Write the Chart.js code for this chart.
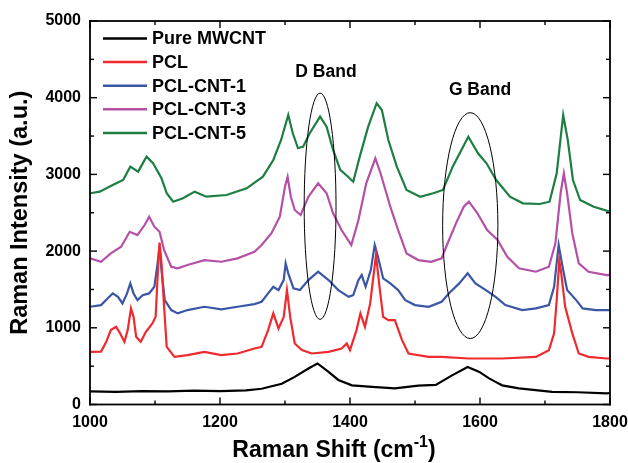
<!DOCTYPE html>
<html>
<head>
<meta charset="utf-8">
<script src="https://cdn.jsdelivr.net/npm/chart.js@4.4.1/dist/chart.umd.min.js"></script>
<style>
  html, body { margin: 0; padding: 0; background: #fff; }
  canvas { display: block; }
</style>
</head>
<body>
<canvas id="ramanChart" width="628" height="463"></canvas>
<script>
// Raman spectra, values (shift in cm-1, intensity in a.u.)
const seriesNames = ['Pure MWCNT', 'PCL', 'PCL-CNT-1', 'PCL-CNT-3', 'PCL-CNT-5'];
const seriesColors = ['#000000', '#ee2a2e', '#3a56a5', '#b450a6', '#1c7e42'];

const mwcntShift = [1000, 1040, 1080, 1120, 1160, 1200, 1240, 1264, 1295, 1315, 1336, 1350, 1367, 1382, 1403, 1434, 1469, 1505, 1532, 1557, 1581, 1599, 1614, 1624, 1634, 1660, 1711, 1750, 1795, 1800];
const mwcntIntensity = [170, 165, 175, 170, 180, 175, 185, 205, 270, 360, 470, 535, 425, 320, 250, 230, 210, 245, 255, 380, 490, 425, 340, 295, 250, 210, 165, 160, 145, 150];

const pclShift = [1000, 1017, 1025, 1032, 1040, 1045, 1053, 1058, 1063, 1067, 1071, 1078, 1086, 1096, 1101, 1104, 1107, 1110, 1114, 1118, 1130, 1150, 1176, 1202, 1227, 1253, 1264, 1274, 1282, 1290, 1298, 1303, 1308, 1315, 1326, 1341, 1367, 1387, 1395, 1400, 1410, 1416, 1423, 1431, 1440, 1446, 1451, 1459, 1469, 1480, 1490, 1521, 1541, 1583, 1634, 1686, 1706, 1714, 1718, 1722, 1725, 1731, 1742, 1752, 1767, 1795, 1800];
const pclIntensity = [686, 690, 817, 970, 1013, 948, 817, 970, 1253, 1143, 882, 817, 948, 1057, 1143, 1665, 2110, 1840, 1274, 752, 621, 643, 686, 643, 665, 730, 752, 970, 1188, 992, 1143, 1492, 1143, 796, 709, 665, 686, 730, 796, 709, 970, 1188, 1013, 1318, 1948, 1492, 1143, 1100, 1100, 839, 665, 621, 621, 600, 600, 621, 709, 927, 1361, 1880, 1710, 1274, 927, 665, 621, 600, 600];

const cnt1Shift = [1000, 1017, 1027, 1035, 1043, 1050, 1057, 1062, 1067, 1073, 1081, 1091, 1099, 1104, 1107, 1110, 1115, 1125, 1135, 1150, 1176, 1202, 1227, 1253, 1264, 1274, 1282, 1290, 1298, 1301, 1305, 1313, 1323, 1336, 1351, 1367, 1382, 1398, 1405, 1413, 1418, 1424, 1432, 1438, 1443, 1451, 1462, 1474, 1485, 1500, 1521, 1541, 1552, 1568, 1581, 1593, 1609, 1624, 1639, 1665, 1686, 1706, 1714, 1721, 1727, 1734, 1748, 1758, 1778, 1800];
const cnt1Intensity = [1274, 1296, 1383, 1448, 1404, 1318, 1448, 1579, 1448, 1361, 1426, 1448, 1535, 1840, 2070, 1753, 1361, 1231, 1188, 1231, 1274, 1240, 1274, 1309, 1339, 1448, 1535, 1492, 1622, 1840, 1710, 1514, 1492, 1622, 1731, 1622, 1492, 1404, 1426, 1622, 1688, 1535, 1753, 2080, 1927, 1644, 1579, 1492, 1361, 1296, 1274, 1339, 1448, 1579, 1710, 1579, 1492, 1404, 1296, 1231, 1253, 1296, 1535, 2080, 1796, 1492, 1361, 1253, 1231, 1231];

const cnt3Shift = [1000, 1017, 1032, 1048, 1061, 1073, 1084, 1091, 1099, 1107, 1114, 1125, 1135, 1150, 1176, 1202, 1227, 1253, 1264, 1279, 1292, 1300, 1304, 1309, 1315, 1324, 1336, 1351, 1364, 1374, 1387, 1402, 1413, 1425, 1439, 1447, 1462, 1474, 1487, 1505, 1525, 1541, 1548, 1563, 1575, 1583, 1596, 1611, 1627, 1642, 1660, 1686, 1706, 1716, 1724, 1729, 1734, 1742, 1752, 1767, 1795, 1800];
const cnt3Intensity = [1905, 1861, 1970, 2057, 2252, 2209, 2340, 2448, 2318, 2252, 2013, 1796, 1775, 1818, 1883, 1861, 1905, 1991, 2079, 2231, 2448, 2840, 2970, 2709, 2536, 2470, 2709, 2884, 2754, 2493, 2275, 2079, 2405, 2884, 3210, 3015, 2579, 2275, 1970, 1883, 1861, 1905, 2057, 2362, 2579, 2644, 2493, 2275, 2144, 1927, 1775, 1731, 1796, 2101, 2754, 3015, 2754, 2231, 1840, 1731, 1688, 1690];

const cnt5Shift = [1000, 1015, 1035, 1051, 1062, 1074, 1087, 1097, 1110, 1118, 1128, 1143, 1161, 1179, 1210, 1241, 1266, 1282, 1294, 1305, 1312, 1320, 1328, 1338, 1354, 1364, 1374, 1385, 1397, 1405, 1415, 1428, 1441, 1449, 1459, 1472, 1487, 1508, 1528, 1543, 1558, 1574, 1582, 1597, 1610, 1625, 1646, 1666, 1692, 1707, 1718, 1728, 1735, 1743, 1754, 1775, 1800];
const cnt5Intensity = [2754, 2775, 2862, 2927, 3101, 3036, 3231, 3145, 2949, 2754, 2644, 2688, 2775, 2709, 2731, 2819, 2970, 3188, 3449, 3775, 3536, 3341, 3362, 3536, 3753, 3623, 3319, 3058, 2970, 2905, 3232, 3623, 3928, 3840, 3449, 3101, 2797, 2709, 2754, 2797, 3101, 3362, 3492, 3275, 3145, 2927, 2709, 2623, 2614, 2644, 3015, 3775, 3449, 2927, 2666, 2579, 2514];

const shiftLists = [mwcntShift, pclShift, cnt1Shift, cnt3Shift, cnt5Shift];
const intensityLists = [mwcntIntensity, pclIntensity, cnt1Intensity, cnt3Intensity, cnt5Intensity];

// band markers (ellipses) in data units
const bandLabels = ['D Band', 'G Band'];
const bandCenter = [1354, 1585];
const bandHalfWidth = [24.5, 42.5];
const bandLow = [1110, 860];
const bandHigh = [4060, 3805];
const bandLabelShift = [1363, 1600];
const bandLabelIntensity = [4275, 4035];

const FONT = '"Liberation Sans", Arial, Helvetica, sans-serif';

// ellipses, frame, inward ticks, legend and axis titles
const decorPlugin = {
    id: 'decor',
    afterDraw(chart) {
        const c = chart.ctx;
        const xs = chart.scales.x, ys = chart.scales.y;
        const left = xs.getPixelForValue(xs.min);
        const right = xs.getPixelForValue(xs.max);
        const top = ys.getPixelForValue(ys.max);
        const bottom = ys.getPixelForValue(ys.min);
        c.save();

        // ellipses around the bands
        c.strokeStyle = '#000';
        c.lineWidth = 1;
        bandLabels.forEach((name, i) => {
            const cx = xs.getPixelForValue(bandCenter[i]);
            const rx = xs.getPixelForValue(bandCenter[i] + bandHalfWidth[i]) - cx;
            const eTop = ys.getPixelForValue(bandHigh[i]);
            const eBottom = ys.getPixelForValue(bandLow[i]);
            c.beginPath();
            c.ellipse(cx, (eTop + eBottom) / 2, rx, (eBottom - eTop) / 2, 0, 0, Math.PI * 2);
            c.stroke();

            c.fillStyle = '#000';
            c.font = 'bold 17.5px ' + FONT;
            c.textAlign = 'center';
            c.textBaseline = 'alphabetic';
            c.fillText(name, xs.getPixelForValue(bandLabelShift[i]), ys.getPixelForValue(bandLabelIntensity[i]));
        });

        // frame and inward ticks
        c.fillStyle = '#000';
        const lw = 1.8;
        c.fillRect(left - lw / 2, top - lw / 2, right - left + lw, lw);
        c.fillRect(left - lw / 2, bottom - lw / 2, right - left + lw, lw);
        c.fillRect(left - lw / 2, top - lw / 2, lw, bottom - top + lw);
        c.fillRect(right - lw / 2, top - lw / 2, lw, bottom - top + lw);

        const tw = 1.4;
        for (let v = xs.min; v <= xs.max; v += 100) {
            const px = xs.getPixelForValue(v);
            const len = v % 200 === 0 ? 7 : 4;
            c.fillRect(px - tw / 2, bottom - len, tw, len);
            c.fillRect(px - tw / 2, top, tw, len);
        }
        for (let v = ys.min; v <= ys.max; v += 500) {
            const py = ys.getPixelForValue(v);
            const len = v % 1000 === 0 ? 7 : 4;
            c.fillRect(left, py - tw / 2, len, tw);
            c.fillRect(right - len, py - tw / 2, len, tw);
        }

        // legend
        c.font = 'bold 18px ' + FONT;
        c.textAlign = 'left';
        c.textBaseline = 'middle';
        chart.data.datasets.forEach((ds, i) => {
            const y = 38.5 + i * 23.6;
            c.strokeStyle = ds.borderColor;
            c.lineWidth = 2.5;
            c.beginPath();
            c.moveTo(103, y); c.lineTo(147, y);
            c.stroke();
            c.fillStyle = '#000';
            c.fillText(ds.label, 152, y + 1);
        });

        // y title
        c.fillStyle = '#000';
        c.font = 'bold 23.5px ' + FONT;
        c.save();
        c.translate(21, (top + bottom) / 2);
        c.rotate(-Math.PI / 2);
        c.textAlign = 'center';
        c.textBaseline = 'middle';
        c.fillText('Raman Intensity (a.u.)', 0, 0);
        c.restore();

        // x title with superscript
        const main = 'Raman Shift (cm';
        const sup = '-1';
        const close = ')';
        const bigFont = 'bold 23px ' + FONT;
        const smallFont = 'bold 16px ' + FONT;
        c.font = bigFont;
        const w1 = c.measureText(main).width;
        const w3 = c.measureText(close).width;
        c.font = smallFont;
        const w2 = c.measureText(sup).width;
        let x = 334 - (w1 + w2 + w3) / 2;
        const base = 457;
        c.textAlign = 'left';
        c.textBaseline = 'alphabetic';
        c.font = bigFont;
        c.fillText(main, x, base);
        x += w1;
        c.font = smallFont;
        c.fillText(sup, x, base - 10);
        x += w2;
        c.font = bigFont;
        c.fillText(close, x, base);
        c.restore();
    }
};

const tickFont = { family: FONT, size: 16, weight: 'bold' };

const canvasCtx = document.getElementById('ramanChart').getContext('2d');
new Chart(canvasCtx, {
    type: 'line',
    data: {
        datasets: seriesNames.map((name, i) => ({
            label: name,
            data: shiftLists[i].map((s, j) => ({ x: s, y: intensityLists[i][j] })),
            borderColor: seriesColors[i],
            borderWidth: 2.2,
            pointRadius: 0,
            tension: 0,
            fill: false
        }))
    },
    options: {
        responsive: false,
        animation: false,
        layout: { padding: { top: 21, right: 18, left: 0, bottom: 0 } },
        scales: {
            x: {
                type: 'linear',
                min: 1000,
                max: 1800,
                grid: { display: false, drawTicks: false },
                border: { display: false },
                ticks: {
                    stepSize: 100,
                    autoSkip: false,
                    maxRotation: 0,
                    padding: 8,
                    color: '#000',
                    font: tickFont,
                    callback: v => (v % 200 === 0 ? String(v) : '')
                },
                afterFit: s => { s.height = 58.5; s.paddingLeft = 0; s.paddingRight = 0; }
            },
            y: {
                type: 'linear',
                min: 0,
                max: 5000,
                grid: { display: false, drawTicks: false },
                border: { display: false },
                ticks: {
                    stepSize: 500,
                    autoSkip: false,
                    padding: 9,
                    color: '#000',
                    font: tickFont,
                    callback: v => (v % 1000 === 0 ? String(v) : '')
                },
                afterFit: s => { s.width = 90; s.paddingTop = 0; s.paddingBottom = 0; }
            }
        },
        plugins: {
            legend: { display: false },
            tooltip: { enabled: false }
        }
    },
    plugins: [decorPlugin]
});
</script>
</body>
</html>
